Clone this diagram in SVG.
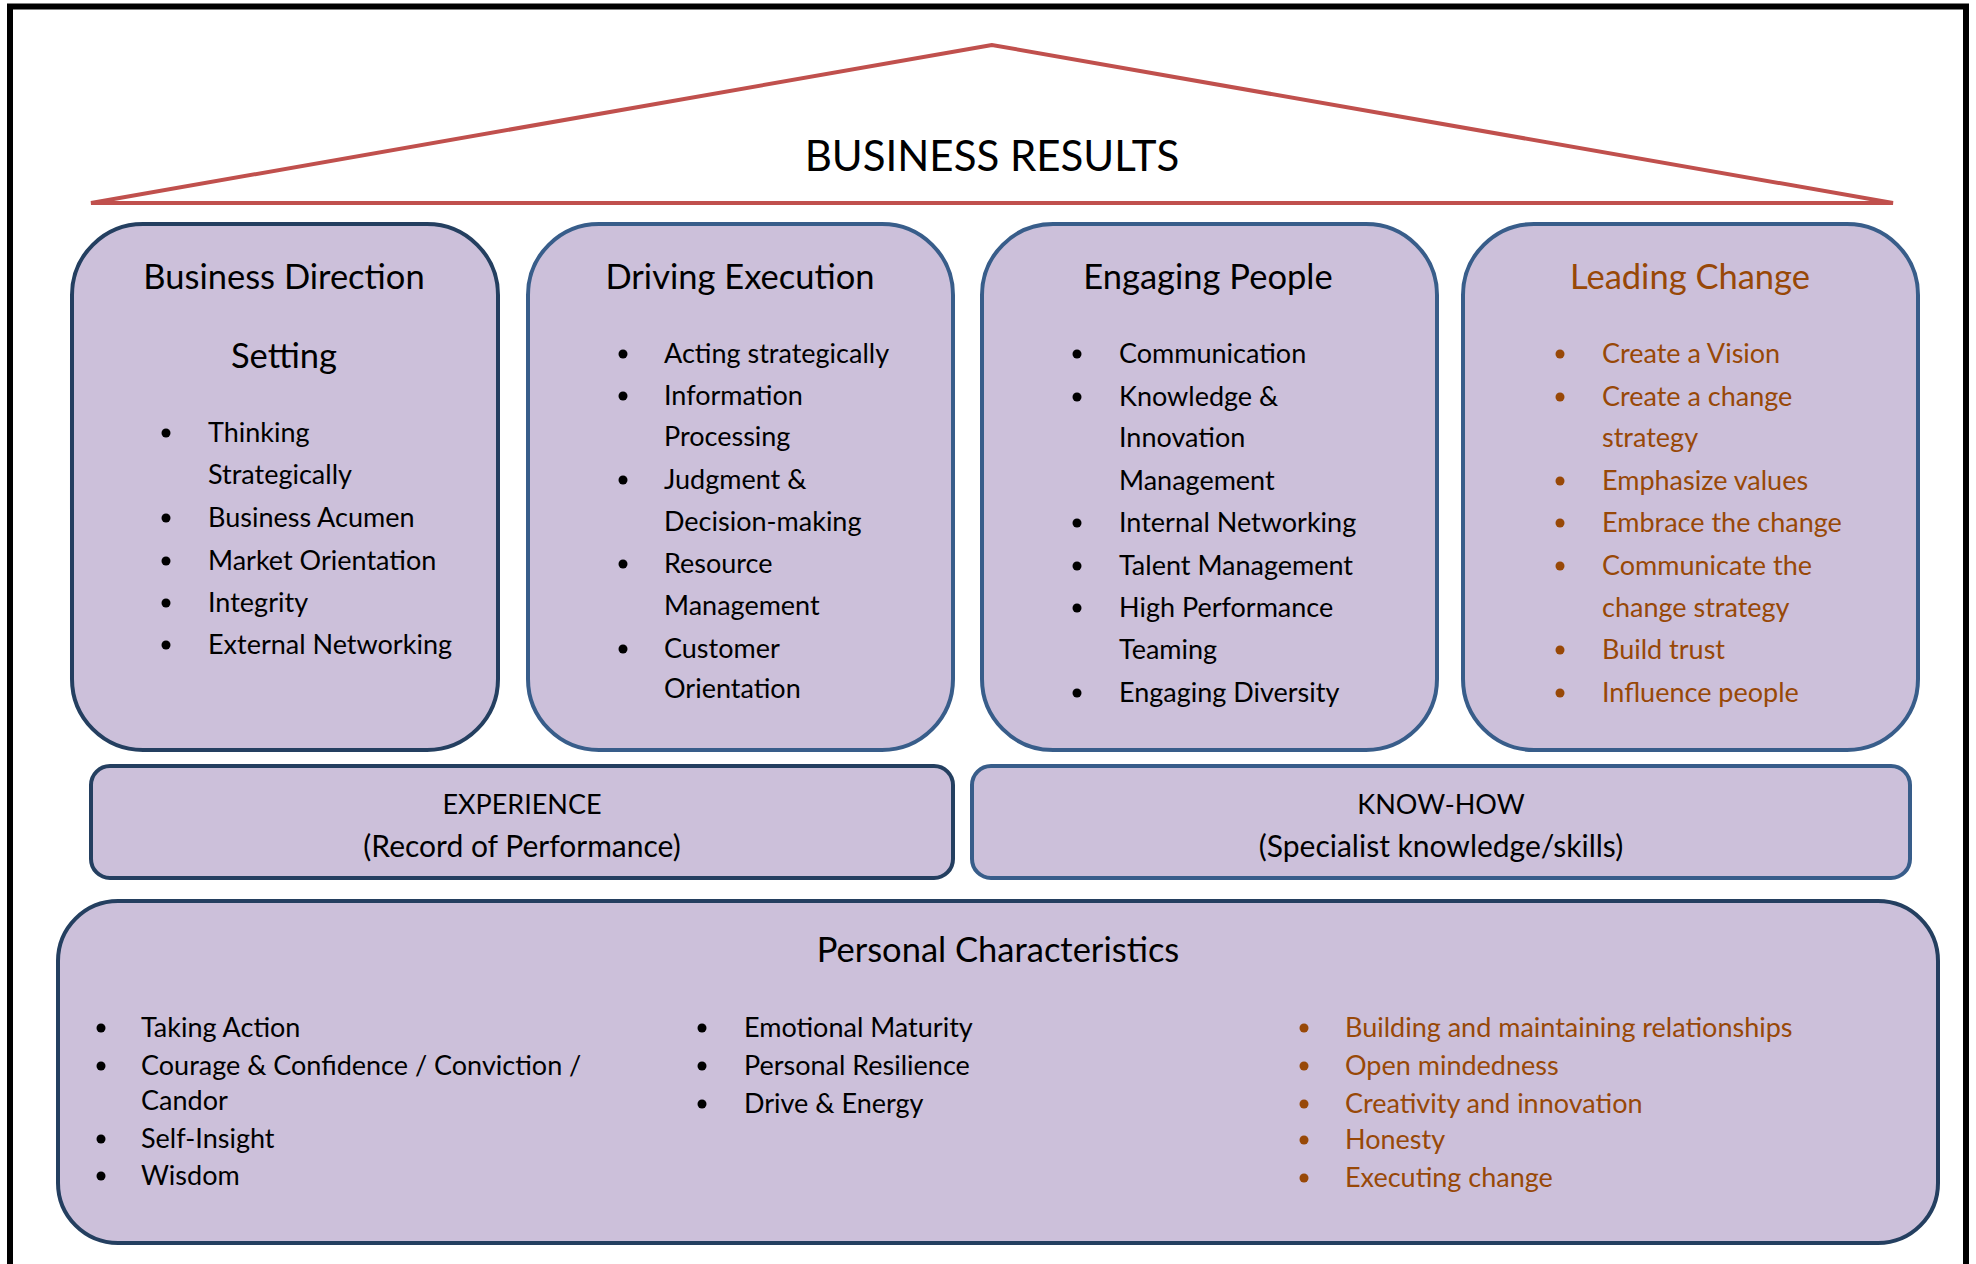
<svg xmlns="http://www.w3.org/2000/svg" width="1976" height="1264" viewBox="0 0 1976 1264">
<style>
  .box-dark { fill: #CCC0DA; stroke: #243F60; stroke-width: 4; }
  .box-mid { fill: #CCC0DA; stroke: #385D8A; stroke-width: 4; }
  .head { font-family: Lato, "Liberation Sans", sans-serif; font-size: 34.5px; fill: #000; text-anchor: middle; }
  .txt { font-family: Lato, "Liberation Sans", sans-serif; font-size: 27px; fill: #000; }
  .mid { font-family: Lato, "Liberation Sans", sans-serif; font-size: 30px; fill: #000; text-anchor: middle; }
  .cap { font-size: 27px; }
  .or { fill: #984807; }
  .bul { fill: #000; }
  .bul-or { fill: #984807; }
</style>
<rect x="0" y="0" width="1976" height="1264" fill="#FFFFFF"/>
<rect id="frame" x="10" y="6.5" width="1956" height="1300" fill="none" stroke="#000" stroke-width="6"/>

<g id="roof">
  <polygon points="992,45 91,203 1893,203" fill="none" stroke="#C0504D" stroke-width="4" stroke-linejoin="miter"/>
  <text x="992" y="171" class="head" style="font-size:42px">BUSINESS RESULTS</text>
</g>

<g id="box-business-direction">
  <rect x="72" y="224" width="426" height="526" rx="71" ry="71" class="box-dark"/>
  <text x="284" y="289" class="head">Business Direction</text>
  <text x="284" y="368" class="head">Setting</text>
  <circle cx="166" cy="433" r="4.5" class="bul"/>
  <circle cx="166" cy="518" r="4.5" class="bul"/>
  <circle cx="166" cy="561" r="4.5" class="bul"/>
  <circle cx="166" cy="603" r="4.5" class="bul"/>
  <circle cx="166" cy="645" r="4.5" class="bul"/>
  <text x="208" y="442" class="txt">Thinking</text>
  <text x="208" y="484" class="txt">Strategically</text>
  <text x="208" y="527" class="txt">Business Acumen</text>
  <text x="208" y="570" class="txt">Market Orientation</text>
  <text x="208" y="612" class="txt">Integrity</text>
  <text x="208" y="654" class="txt">External Networking</text>
</g>

<g id="box-driving-execution">
  <rect x="528" y="224" width="425" height="526" rx="71" ry="71" class="box-mid"/>
  <text x="740" y="289" class="head">Driving Execution</text>
  <circle cx="623" cy="354" r="4.5" class="bul"/>
  <circle cx="623" cy="396" r="4.5" class="bul"/>
  <circle cx="623" cy="480" r="4.5" class="bul"/>
  <circle cx="623" cy="564" r="4.5" class="bul"/>
  <circle cx="623" cy="649" r="4.5" class="bul"/>
  <text x="664" y="363" class="txt">Acting strategically</text>
  <text x="664" y="405" class="txt">Information</text>
  <text x="664" y="446" class="txt">Processing</text>
  <text x="664" y="489" class="txt">Judgment &amp;</text>
  <text x="664" y="531" class="txt">Decision-making</text>
  <text x="664" y="573" class="txt">Resource</text>
  <text x="664" y="615" class="txt">Management</text>
  <text x="664" y="658" class="txt">Customer</text>
  <text x="664" y="698" class="txt">Orientation</text>
</g>

<g id="box-engaging-people">
  <rect x="982" y="224" width="455" height="526" rx="71" ry="71" class="box-mid"/>
  <text x="1208" y="289" class="head">Engaging People</text>
  <circle cx="1077" cy="354" r="4.5" class="bul"/>
  <circle cx="1077" cy="397" r="4.5" class="bul"/>
  <circle cx="1077" cy="523" r="4.5" class="bul"/>
  <circle cx="1077" cy="566" r="4.5" class="bul"/>
  <circle cx="1077" cy="608" r="4.5" class="bul"/>
  <circle cx="1077" cy="693" r="4.5" class="bul"/>
  <text x="1119" y="363" class="txt">Communication</text>
  <text x="1119" y="406" class="txt">Knowledge &amp;</text>
  <text x="1119" y="447" class="txt">Innovation</text>
  <text x="1119" y="490" class="txt">Management</text>
  <text x="1119" y="532" class="txt">Internal Networking</text>
  <text x="1119" y="575" class="txt">Talent Management</text>
  <text x="1119" y="617" class="txt">High Performance</text>
  <text x="1119" y="659" class="txt">Teaming</text>
  <text x="1119" y="702" class="txt">Engaging Diversity</text>
</g>

<g id="box-leading-change">
  <rect x="1463" y="224" width="455" height="526" rx="71" ry="71" class="box-mid"/>
  <text x="1690" y="289" class="head or">Leading Change</text>
  <circle cx="1560" cy="354" r="4.5" class="bul-or"/>
  <circle cx="1560" cy="397" r="4.5" class="bul-or"/>
  <circle cx="1560" cy="481" r="4.5" class="bul-or"/>
  <circle cx="1560" cy="523" r="4.5" class="bul-or"/>
  <circle cx="1560" cy="566" r="4.5" class="bul-or"/>
  <circle cx="1560" cy="650" r="4.5" class="bul-or"/>
  <circle cx="1560" cy="693" r="4.5" class="bul-or"/>
  <text x="1602" y="363" class="txt or">Create a Vision</text>
  <text x="1602" y="406" class="txt or">Create a change</text>
  <text x="1602" y="447" class="txt or">strategy</text>
  <text x="1602" y="490" class="txt or">Emphasize values</text>
  <text x="1602" y="532" class="txt or">Embrace the change</text>
  <text x="1602" y="575" class="txt or">Communicate the</text>
  <text x="1602" y="617" class="txt or">change strategy</text>
  <text x="1602" y="659" class="txt or">Build trust</text>
  <text x="1602" y="702" class="txt or">Influence people</text>
</g>

<g id="box-experience">
  <rect x="91" y="766" width="862" height="112" rx="19" ry="19" class="box-dark"/>
  <text x="522" y="814" class="mid cap">EXPERIENCE</text>
  <text x="522" y="857" class="mid">(Record of Performance)</text>
</g>

<g id="box-knowhow">
  <rect x="972" y="766" width="938" height="112" rx="19" ry="19" class="box-mid"/>
  <text x="1441" y="814" class="mid cap">KNOW-HOW</text>
  <text x="1441" y="857" class="mid">(Specialist knowledge/skills)</text>
</g>

<g id="box-personal">
  <rect x="58" y="901" width="1880" height="342" rx="60" ry="60" class="box-dark"/>
  <text x="998" y="962" class="head">Personal Characteristics</text>
  <circle cx="101" cy="1028" r="4.5" class="bul"/>
  <circle cx="101" cy="1066" r="4.5" class="bul"/>
  <circle cx="101" cy="1139" r="4.5" class="bul"/>
  <circle cx="101" cy="1176" r="4.5" class="bul"/>
  <text x="141" y="1037" class="txt">Taking Action</text>
  <text x="141" y="1075" class="txt">Courage &amp; Confidence / Conviction /</text>
  <text x="141" y="1110" class="txt">Candor</text>
  <text x="141" y="1148" class="txt">Self-Insight</text>
  <text x="141" y="1185" class="txt">Wisdom</text>
  <circle cx="702" cy="1028" r="4.5" class="bul"/>
  <circle cx="702" cy="1066" r="4.5" class="bul"/>
  <circle cx="702" cy="1104" r="4.5" class="bul"/>
  <text x="744" y="1037" class="txt">Emotional Maturity</text>
  <text x="744" y="1075" class="txt">Personal Resilience</text>
  <text x="744" y="1113" class="txt">Drive &amp; Energy</text>
  <circle cx="1304" cy="1028" r="4.5" class="bul-or"/>
  <circle cx="1304" cy="1066" r="4.5" class="bul-or"/>
  <circle cx="1304" cy="1104" r="4.5" class="bul-or"/>
  <circle cx="1304" cy="1140" r="4.5" class="bul-or"/>
  <circle cx="1304" cy="1178" r="4.5" class="bul-or"/>
  <text x="1345" y="1037" class="txt or">Building and maintaining relationships</text>
  <text x="1345" y="1075" class="txt or">Open mindedness</text>
  <text x="1345" y="1113" class="txt or">Creativity and innovation</text>
  <text x="1345" y="1149" class="txt or">Honesty</text>
  <text x="1345" y="1187" class="txt or">Executing change</text>
</g>

<g id="connectors"></g>
</svg>
